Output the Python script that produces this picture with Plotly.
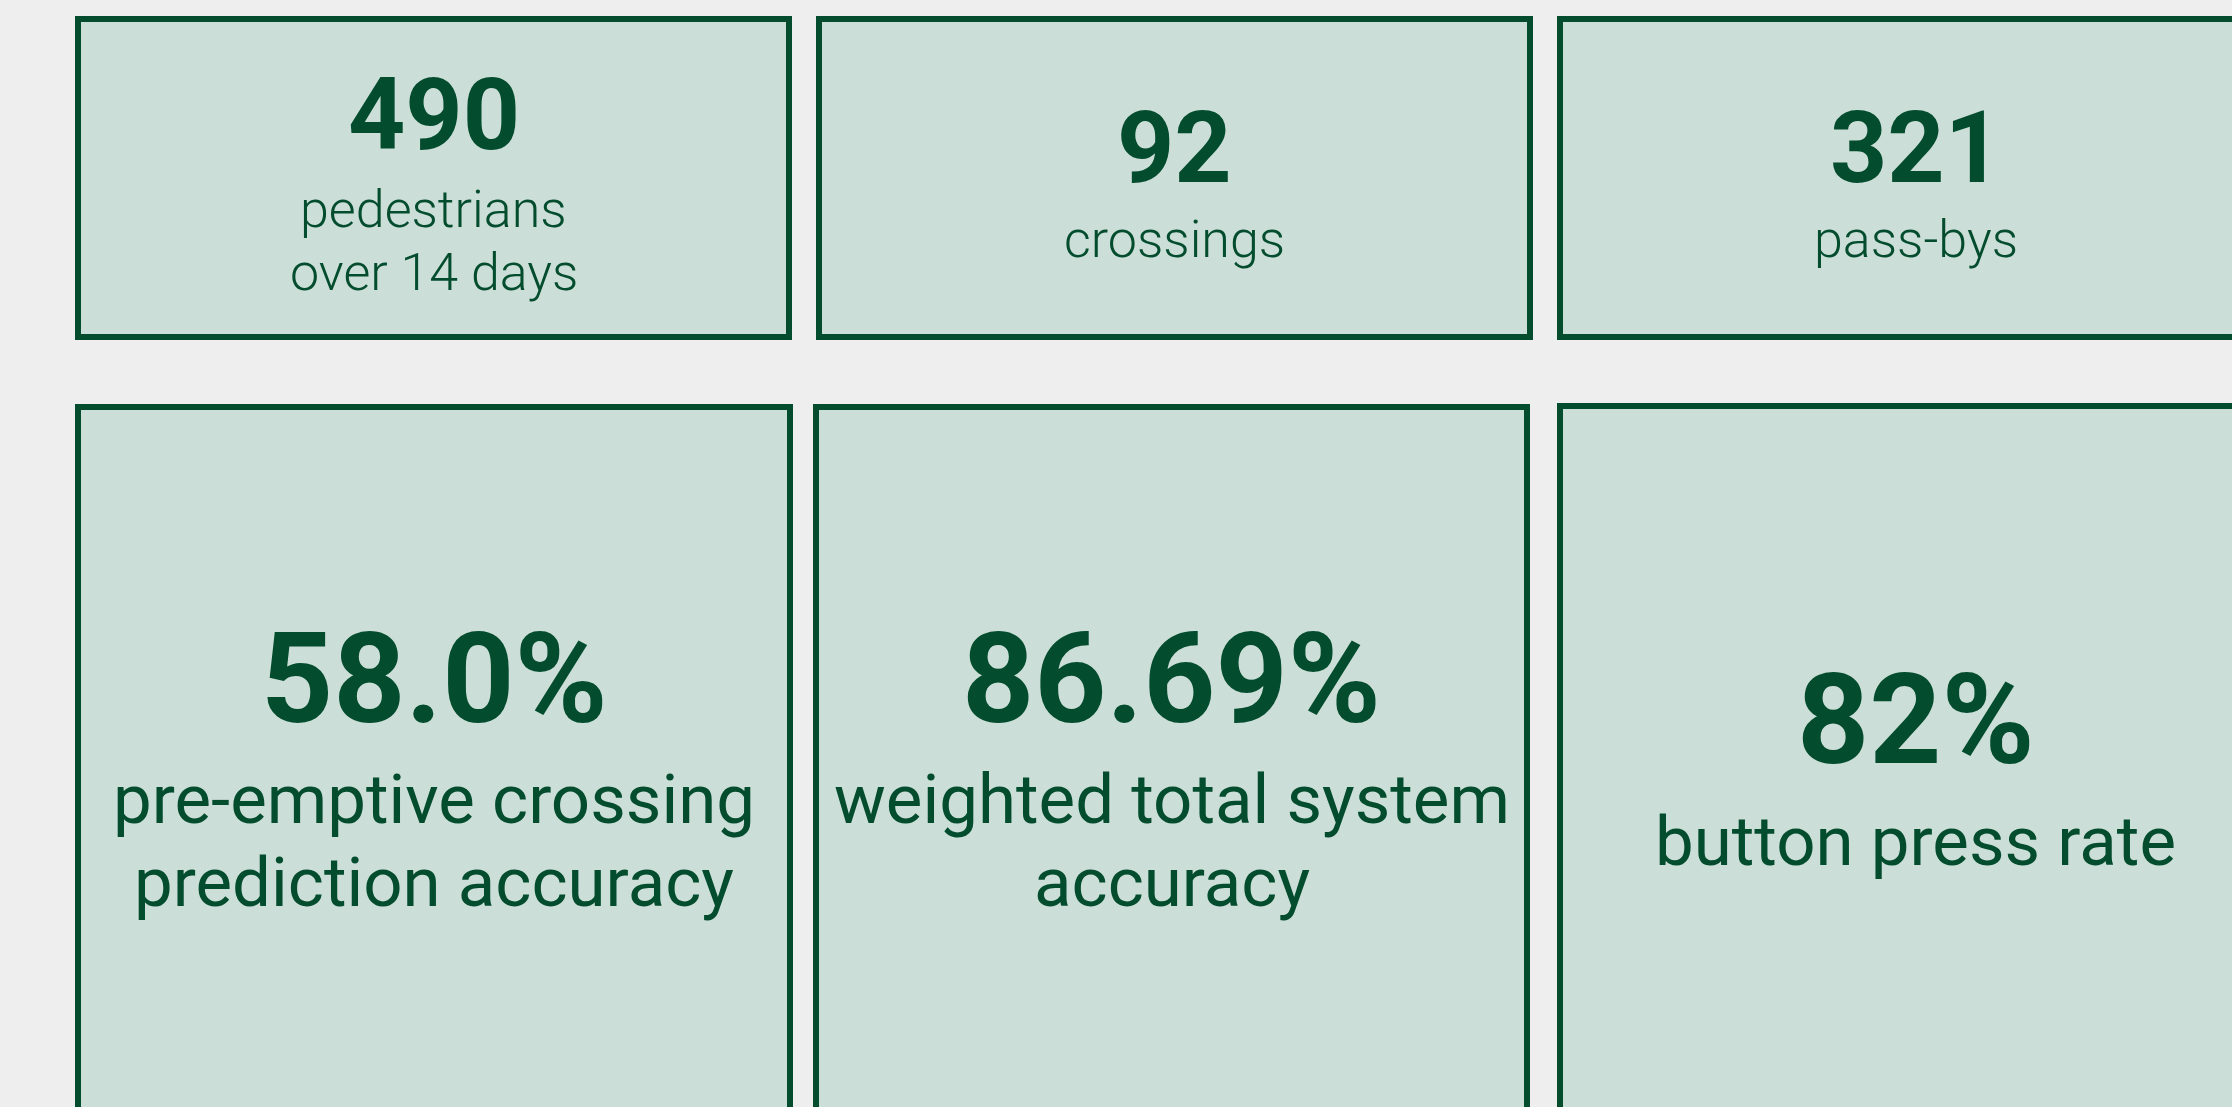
import plotly.graph_objects as go

# ---------------- data ----------------
count_values = [490, 92, 321]
count_labels = [["pedestrians", "over 14 days"], ["crossings"], ["pass-bys"]]

rate_values = [58.0, 86.69, 82]
rate_decimals = [1, 2, 0]
rate_labels = [["pre-emptive crossing", "prediction accuracy"],
               ["weighted total system", "accuracy"],
               ["button press rate"]]

# ---------------- style / layout ----------------
W, H = 2232, 1107
BG = "#EEEEEE"
FILL = "#CCDED8"
INK = "#034D2E"
FONT = "Roboto, 'Noto Sans', sans-serif"
BORDER = 6

top_cards_x = [(75, 792), (816, 1533), (1557, 2274)]
top_y = (16, 340)
bot_cards_x = [(75, 793), (813, 1530), (1557, 2274)]
bot_y = [(404, 1250), (404, 1250), (403, 1250)]

top_num_size, top_lab_size = 100, 52
bot_num_size, bot_lab_size = 126, 69

# vertical positions (cap centre of number, baselines of label lines)
top_num_y = [114.5, 147, 147]
top_lab_base = [[227, 290], [257], [257]]
bot_num_y = [679, 679, 720]
bot_lab_base = [[823, 906], [823, 906], [865]]

fig = go.Figure()
shapes = []
annotations = []


def card(x0, x1, y0, y1):
    h = BORDER / 2
    shapes.append(dict(type="rect", xref="x", yref="y",
                       x0=x0 + h, x1=x1 - h, y0=y0 + h, y1=y1 - h,
                       fillcolor=FILL, line=dict(color=INK, width=BORDER),
                       layer="below"))


def text(x, y, s, size, weight):
    annotations.append(dict(x=x, y=y, xref="x", yref="y", text=s,
                            showarrow=False, xanchor="center", yanchor="middle",
                            font=dict(family=FONT, size=size, color=INK, weight=weight)))


for i, (xs, v, lab) in enumerate(zip(top_cards_x, count_values, count_labels)):
    card(xs[0], xs[1], top_y[0], top_y[1])
    cx = (xs[0] + xs[1]) / 2
    text(cx, top_num_y[i], f"{v}", top_num_size, 700)
    for line, base in zip(lab, top_lab_base[i]):
        text(cx, base - 0.34 * top_lab_size, line, top_lab_size, 300)

for i, (xs, v, d, lab) in enumerate(zip(bot_cards_x, rate_values, rate_decimals, rate_labels)):
    card(xs[0], xs[1], bot_y[i][0], bot_y[i][1])
    cx = (xs[0] + xs[1]) / 2
    text(cx, bot_num_y[i], f"{v:.{d}f}%", bot_num_size, 700)
    for line, base in zip(lab, bot_lab_base[i]):
        text(cx, base - 0.34 * bot_lab_size, line, bot_lab_size, 400)

fig.update_layout(
    width=W, height=H,
    margin=dict(l=0, r=0, t=0, b=0),
    paper_bgcolor=BG, plot_bgcolor=BG,
    shapes=shapes, annotations=annotations,
    showlegend=False,
    xaxis=dict(range=[0, W], visible=False, fixedrange=True),
    yaxis=dict(range=[H, 0], visible=False, fixedrange=True),
)

page_fix = ("document.body.style.margin='0';"
            "document.body.style.padding='0';"
            "document.body.style.overflow='hidden';"
            "document.body.style.background='%s';" % BG)

fig.write_html("out.html", config={"displayModeBar": False}, post_script=page_fix)
